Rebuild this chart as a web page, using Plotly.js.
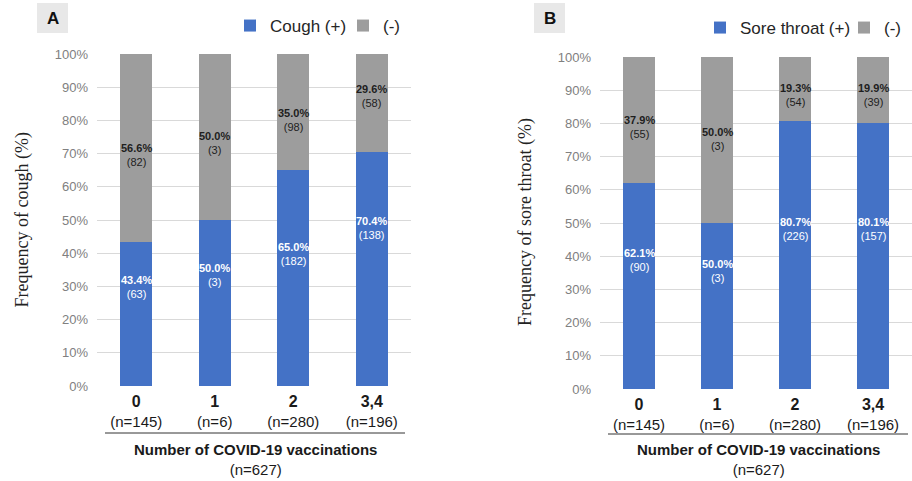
<!DOCTYPE html>
<html>
<head>
<meta charset="utf-8">
<script src="https://cdn.plot.ly/plotly-3.0.1.min.js"></script>
<style>
  html, body { margin: 0; padding: 0; background: #fff; overflow: hidden; }
  #chart { width: 912px; height: 481px; overflow: hidden; }
</style>
</head>
<body>
<div id="chart"></div>
<script>
// Vaccination groups and their sizes
const categories = ['0', '1', '2', '3,4'];
const groupSizes = [145, 6, 280, 196];
const totalN = 627;

// Panel A: cough
const coughPosPct = [43.4, 50.0, 65.0, 70.4];
const coughPosN = [63, 3, 182, 138];
const coughNegPct = [56.6, 50.0, 35.0, 29.6];
const coughNegN = [82, 3, 98, 58];

// Panel B: sore throat
const throatPosPct = [62.1, 50.0, 80.7, 80.1];
const throatPosN = [90, 3, 226, 157];
const throatNegPct = [37.9, 50.0, 19.3, 19.9];
const throatNegN = [55, 3, 54, 39];

// Where each in-bar label block sits (axis units)
const coughPosLabelY = [29.8, 33.3, 39.9, 47.7];
const coughNegLabelY = [69.6, 73.2, 80.0, 87.5];
const throatPosLabelY = [38.9, 35.4, 48.3, 48.3];
const throatNegLabelY = [78.8, 75.3, 88.5, 88.5];

const FONT = 'Liberation Sans, Arial, sans-serif';
const SERIF = 'Liberation Serif, Times New Roman, serif';
const BLUE = '#4472c6';
const GREY = '#9d9d9d';
const W = 912, H = 481;
const px = v => v / W;
const py = v => 1 - v / H;

const tickText = categories.map((c, i) =>
  `<span style="font-size:16px"><b>${c}</b></span><br>(n=${groupSizes[i]})`);

function barTrace(vals, name, color, xa, ya, legend) {
  return {
    type: 'bar', x: categories, y: vals, name: name,
    xaxis: xa, yaxis: ya, legend: legend,
    marker: { color: color, line: { width: 0 } },
    width: 0.41, hoverinfo: 'skip'
  };
}

const data = [
  barTrace(coughPosPct, 'Cough (+)', BLUE, 'x', 'y', 'legend'),
  barTrace(coughNegPct, '(-)', GREY, 'x', 'y', 'legend'),
  barTrace(throatPosPct, 'Sore throat (+)', BLUE, 'x2', 'y2', 'legend2'),
  barTrace(throatNegPct, '(-)', GREY, 'x2', 'y2', 'legend2')
];

function valueLabels(pcts, counts, ys, xref, yref, color) {
  return pcts.map((p, i) => ({
    x: categories[i], y: ys[i], xref: xref, yref: yref,
    xanchor: 'center', yanchor: 'middle',
    text: `<b>${p.toFixed(1)}%</b><br>(${counts[i]})`,
    showarrow: false, align: 'center',
    font: { family: FONT, size: 11, color: color }
  }));
}

function paperText(x, y, text, font, extra) {
  return Object.assign({
    x: px(x), y: py(y), xref: 'paper', yref: 'paper',
    xanchor: 'center', yanchor: 'middle', text: text, showarrow: false, font: font
  }, extra || {});
}

const titleFont = { family: FONT, size: 15, color: '#1a1a1a' };
const yTitleFont = { family: SERIF, size: 18, color: '#222' };
const letterFont = { family: FONT, size: 17, color: '#111' };
const xTitle = `<b>Number of COVID-19 vaccinations</b><br>(n=${totalN})`;

const annotations = [
  ...valueLabels(coughPosPct, coughPosN, coughPosLabelY, 'x', 'y', '#ffffff'),
  ...valueLabels(coughNegPct, coughNegN, coughNegLabelY, 'x', 'y', '#1e1e1e'),
  ...valueLabels(throatPosPct, throatPosN, throatPosLabelY, 'x2', 'y2', '#ffffff'),
  ...valueLabels(throatNegPct, throatNegN, throatNegLabelY, 'x2', 'y2', '#1e1e1e'),
  paperText(52.5, 18, '<b>A</b>', letterFont),
  paperText(549.5, 18, '<b>B</b>', letterFont),
  paperText(21.5, 220, 'Frequency of cough (%)', yTitleFont, { textangle: -90 }),
  paperText(525, 222, 'Frequency of sore throat (%)', yTitleFont, { textangle: -90 }),
  paperText(255, 459, xTitle, titleFont),
  paperText(758, 459, xTitle, titleFont)
];

const shapes = [
  { type: 'rect', xref: 'paper', yref: 'paper', x0: px(37), x1: px(68), y0: py(33), y1: py(3),
    fillcolor: '#e8e8e8', line: { width: 0 }, layer: 'below' },
  { type: 'rect', xref: 'paper', yref: 'paper', x0: px(534), x1: px(565), y0: py(33), y1: py(3),
    fillcolor: '#e8e8e8', line: { width: 0 }, layer: 'below' },
  { type: 'line', xref: 'paper', yref: 'paper', x0: px(105), x1: px(405), y0: py(433), y1: py(433),
    line: { color: '#333', width: 1 } },
  { type: 'line', xref: 'paper', yref: 'paper', x0: px(608), x1: px(908), y0: py(434), y1: py(434),
    line: { color: '#333', width: 1 } }
];

function xAxis(domain, anchor) {
  return {
    domain: domain, anchor: anchor, type: 'category',
    tickvals: categories, ticktext: tickText,
    tickfont: { family: FONT, size: 15, color: '#1a1a1a' },
    showgrid: false, showline: false, zeroline: false, ticks: '',
    ticklabelstandoff: 5, fixedrange: true
  };
}
function yAxis(domain, anchor) {
  return {
    domain: domain, anchor: anchor, range: [0, 100], dtick: 10, ticksuffix: '%',
    tickfont: { family: FONT, size: 13, color: '#808080' },
    gridcolor: '#d9d9d9', gridwidth: 1, zeroline: false, showline: false,
    ticks: '', ticklabelstandoff: 8, fixedrange: true
  };
}

const legendBase = {
  orientation: 'h', xanchor: 'left', yanchor: 'top', bgcolor: 'rgba(0,0,0,0)',
  font: { family: FONT, size: 17, color: '#262626' }, traceorder: 'normal',
  entrywidthmode: 'pixels'
};

const layout = {
  width: W, height: H,
  margin: { l: 0, r: 0, t: 0, b: 0, pad: 0, autoexpand: false },
  paper_bgcolor: '#fff', plot_bgcolor: '#fff',
  barmode: 'stack',
  font: { family: FONT },
  xaxis: xAxis([px(97), px(411)], 'y'),
  yaxis: yAxis([py(386), py(54)], 'x'),
  xaxis2: xAxis([px(600), 1], 'y2'),
  yaxis2: yAxis([py(389), py(57)], 'x2'),
  legend: Object.assign({}, legendBase, { x: px(230), y: py(8), entrywidth: 68 }),
  legend2: Object.assign({}, legendBase, { x: px(700), y: py(10), entrywidth: 99 }),
  annotations: annotations,
  shapes: shapes
};

Plotly.newPlot('chart', data, layout, { displayModeBar: false, staticPlot: true });
</script>
</body>
</html>
